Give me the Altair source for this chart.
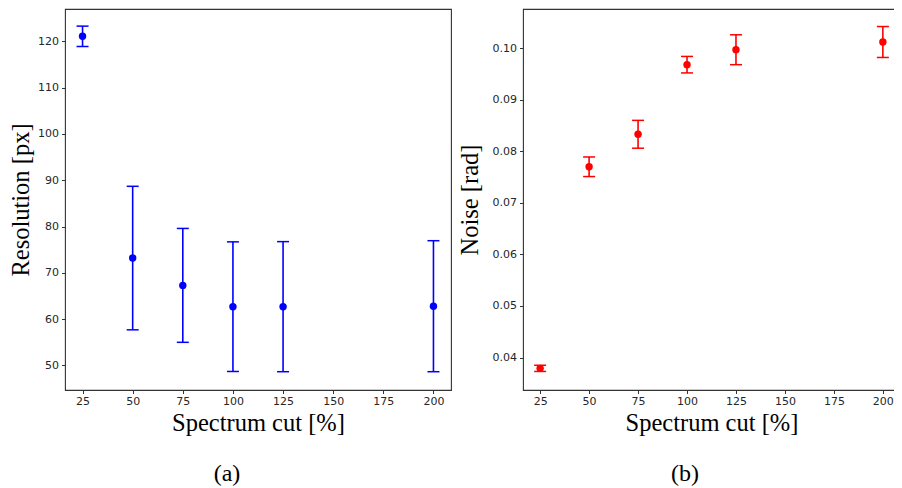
import altair as alt
import pandas as pd

# ---- data ----
cuts = [25, 50, 75, 100, 125, 200]
res_mean = [121.1, 73.2, 67.3, 62.7, 62.7, 62.8]
res_err = [2.2, 15.5, 12.3, 14.0, 14.05, 14.15]
noise_mean = [0.0379, 0.0770, 0.0833, 0.0968, 0.0997, 0.1012]
noise_err = [0.0006, 0.0019, 0.0027, 0.0016, 0.0029, 0.0030]

x_ticks = [25, 50, 75, 100, 125, 150, 175, 200]
res_ticks = [50, 60, 70, 80, 90, 100, 110, 120]
noise_ticks = [0.04, 0.05, 0.06, 0.07, 0.08, 0.09, 0.10]
captions = ["(a)", "(b)"]

SERIF = "Liberation Serif"
SANS = "DejaVu Sans"


def panel(mean, err, color, ytitle, ydomain, yticks, yfmt, caption, title_pad, width, cap_x):
    df = pd.DataFrame({
        "cut": cuts,
        "mean": mean,
        "lo": [m - e for m, e in zip(mean, err)],
        "hi": [m + e for m, e in zip(mean, err)],
    })
    xscale = alt.Scale(domain=[16.25, 208.75], nice=False, zero=False)
    yscale = alt.Scale(domain=ydomain, nice=False, zero=False)
    xaxis = alt.Axis(values=x_ticks, title="Spectrum cut [%]", titlePadding=5, labelPadding=2)
    yaxis = alt.Axis(values=yticks, format=yfmt, title=ytitle, titlePadding=title_pad)

    base = alt.Chart(df)
    rule = base.mark_rule(color=color, strokeWidth=1.6).encode(
        x=alt.X("cut:Q", scale=xscale, axis=xaxis),
        y=alt.Y("lo:Q", scale=yscale, axis=yaxis),
        y2="hi:Q",
    )
    caps = base.transform_fold(["lo", "hi"], as_=["k", "v"]).mark_tick(
        color=color, orient="horizontal", size=12, thickness=1.5, opacity=1
    ).encode(
        x=alt.X("cut:Q", scale=xscale, axis=xaxis),
        y=alt.Y("v:Q", scale=yscale, axis=yaxis),
    )
    pts = base.mark_circle(color=color, size=55, opacity=1).encode(
        x=alt.X("cut:Q", scale=xscale, axis=xaxis),
        y=alt.Y("mean:Q", scale=yscale, axis=yaxis),
    )
    cap = alt.Chart(pd.DataFrame({"t": [caption]})).mark_text(
        font=SERIF, fontSize=24, align="center", baseline="middle", color="black"
    ).encode(x=alt.value(cap_x), y=alt.value(465), text="t:N")
    return alt.layer(rule, caps, pts, cap).properties(width=width, height=381)


left = panel(res_mean, res_err, "#0000ff", "Resolution [px]", [44.7, 127.0],
             res_ticks, "d", captions[0], 4, 386, 162)
right = panel(noise_mean, noise_err, "#ff0000", "Noise [rad]", [0.0337, 0.1076],
              noise_ticks, ".2f", captions[1], 10, 377, 162)

chart = alt.hconcat(left, right, spacing=72, bounds="flush").properties(
    autosize=alt.AutoSizeParams(type="none"),
    padding={"left": 57, "top": 1, "right": 829, "bottom": 479},
    background="white",
).configure_view(
    stroke="#333333", strokeWidth=1.1
).configure_axis(
    grid=False,
    domain=False,
    tickColor="#333333",
    tickSize=3.5,
    tickWidth=1,
    labelFont=SANS,
    labelFontSize=11,
    labelColor="#262626",
    labelPadding=3,
    titleFont=SERIF,
    titleFontSize=24.5,
    titleFontWeight="normal",
    titleColor="black",
)

chart.save("out.html", embed_options={"renderer": "svg", "actions": False})
